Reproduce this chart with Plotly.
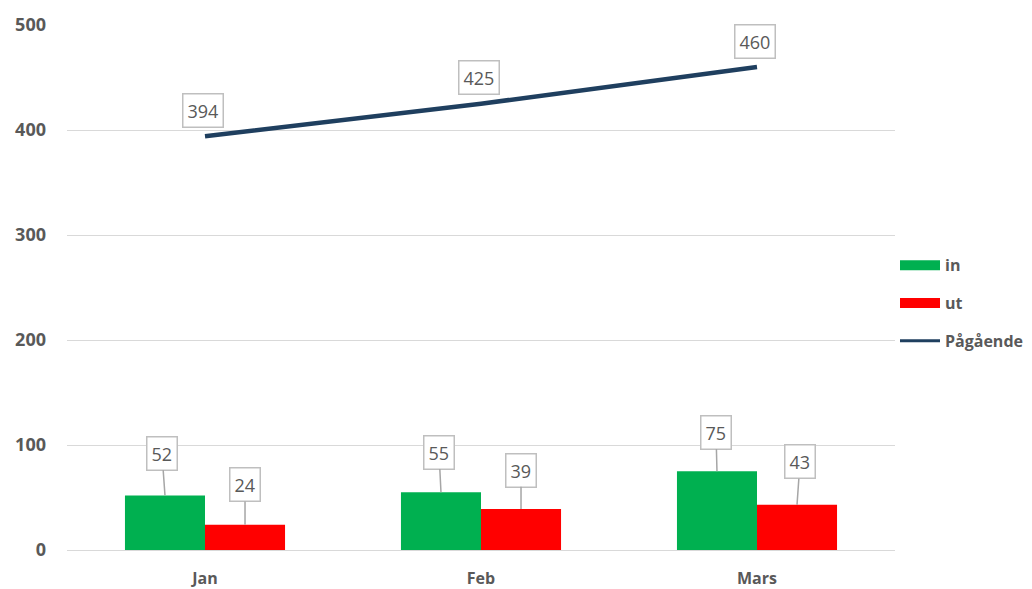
import plotly.graph_objects as go

categories = ["Jan", "Feb", "Mars"]
in_values = [52, 55, 75]
ut_values = [24, 39, 43]
pagaende_values = [394, 425, 460]
y_ticks = [0, 100, 200, 300, 400, 500]

GREEN = "#00B050"
RED = "#FF0000"
NAVY = "#1F3F5F"
TXT = "#595959"
GRID = "#D9D9D9"
FONT = "Open Sans"

xs = list(range(len(categories)))
bar_w = 0.29

fig = go.Figure()
fig.add_trace(go.Bar(x=[x - bar_w / 2 for x in xs], y=in_values, width=bar_w,
                     marker=dict(color=GREEN, line=dict(width=0)), showlegend=False, name="in"))
fig.add_trace(go.Bar(x=[x + bar_w / 2 for x in xs], y=ut_values, width=bar_w,
                     marker=dict(color=RED, line=dict(width=0)), showlegend=False, name="ut"))
fig.add_trace(go.Scatter(x=xs, y=pagaende_values, mode="lines",
                         line=dict(color=NAVY, width=4.5), showlegend=False, name="Pågående"))

# legend entries
for nm, col, lg in [("in", GREEN, "a"), ("ut", RED, "b"), ("Pågående", NAVY, "c")]:
    fig.add_trace(go.Scatter(x=[None], y=[None], mode="lines", name=nm, legendgroup=lg,
                             line=dict(color=col, width=10 if nm != "Pågående" else 3)))

annots = []
def box_label(x, y, val, ax=0, ay=-40, arrow=True):
    d = dict(x=x, y=y, xref="x", yref="y", text=str(val),
             font=dict(family=FONT, size=18, color=TXT),
             bordercolor="#BFBFBF", borderwidth=1.5, borderpad=4, bgcolor="white")
    if arrow:
        d.update(showarrow=True, arrowhead=0, arrowwidth=1.5, arrowcolor="#A6A6A6",
                 ax=ax, ay=ay)
    else:
        d.update(showarrow=False, yshift=-ay, xshift=ax)
    annots.append(d)

bar_offsets = [(-3, -42), (0, -40), (-2, -40), (0, -39), (-1, -39), (3, -43)]
for i, x in enumerate(xs):
    ax, ay = bar_offsets[2 * i]
    box_label(x - bar_w / 2, in_values[i], in_values[i], ax, ay)
    ax, ay = bar_offsets[2 * i + 1]
    box_label(x + bar_w / 2, ut_values[i], ut_values[i], ax, ay)
    box_label(x, pagaende_values[i], pagaende_values[i], -2, -26, arrow=False)

fig.update_layout(
    width=1024, height=581,
    margin=dict(l=59, r=137, t=17, b=39, autoexpand=False),
    plot_bgcolor="white", paper_bgcolor="white",
    barmode="overlay",
    annotations=annots,
    showlegend=True,
    legend=dict(x=1.0, xanchor="left", y=0.47, yanchor="middle",
                font=dict(family=FONT, size=16, color=TXT, weight="bold"),
                itemwidth=40, tracegroupgap=14, bgcolor="rgba(0,0,0,0)"),
    xaxis=dict(range=[-0.5, 2.5], tickvals=xs, ticktext=categories, showgrid=False,
               zeroline=False, showline=False, ticks="", automargin=False,
               ticklabelstandoff=17,
               tickfont=dict(family=FONT, size=16, color=TXT, weight="bold")),
    yaxis=dict(range=[0, 500], tickvals=y_ticks, showgrid=True, gridcolor=GRID, gridwidth=1,
               zeroline=True, zerolinecolor=GRID, zerolinewidth=1, showline=False, ticks="",
               ticklabelstandoff=20, automargin=False,
               tickfont=dict(family=FONT, size=18, color=TXT, weight="bold")),
)

fig.write_html("out.html")
